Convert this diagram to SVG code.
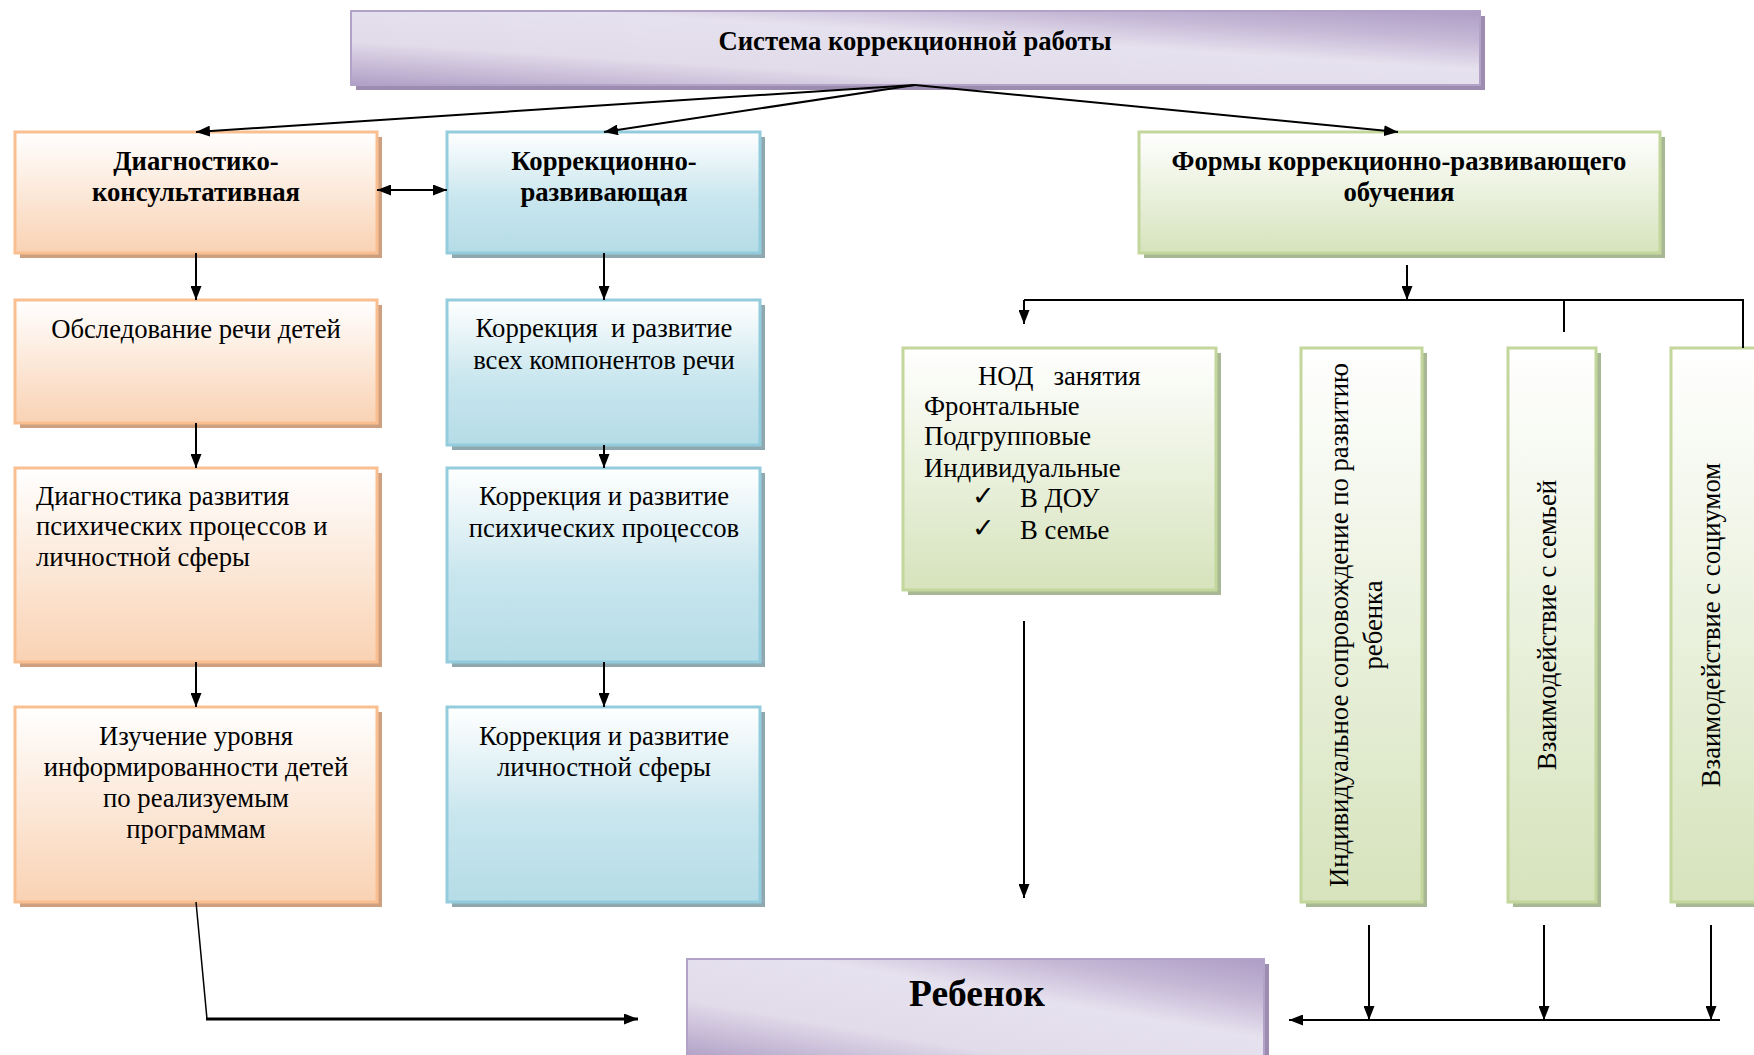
<svg xmlns="http://www.w3.org/2000/svg" width="1754" height="1055" viewBox="0 0 1754 1055">
<defs>
<linearGradient id="gOr" x1="0" y1="0" x2="0" y2="1"><stop offset="0" stop-color="#FFFFFF"/><stop offset="1" stop-color="#F9D2B3"/></linearGradient>
<linearGradient id="gBl" x1="0" y1="0" x2="0" y2="1"><stop offset="0" stop-color="#FFFFFF"/><stop offset="0.55" stop-color="#C9E6EE"/><stop offset="1" stop-color="#B5DCE7"/></linearGradient>
<linearGradient id="gGr" x1="0" y1="0" x2="0" y2="1"><stop offset="0" stop-color="#FFFFFF"/><stop offset="1" stop-color="#D6E3BC"/></linearGradient>
<linearGradient id="gPu" x1="0" y1="1" x2="1" y2="0"><stop offset="0" stop-color="#B09FC6"/><stop offset="0.3" stop-color="#E2DCEA"/><stop offset="0.6" stop-color="#E6E1EE"/><stop offset="0.8" stop-color="#C5B8D6"/><stop offset="1" stop-color="#AE9DC5"/></linearGradient>
<marker id="ah" viewBox="0 0 14 11" refX="14" refY="5.5" markerWidth="14" markerHeight="11" markerUnits="userSpaceOnUse" orient="auto-start-reverse"><path d="M0,0 L14,5.5 L0,11 z" fill="#000"/></marker>
</defs>
<style>
.t{font-family:"Liberation Serif","Times New Roman",serif;font-size:26.7px;fill:#000;white-space:pre}
.b{font-weight:bold}
.c{text-anchor:middle}
.or{fill:url(#gOr);stroke:#F9BF90;stroke-width:3}
.bl{fill:url(#gBl);stroke:#93CDDD;stroke-width:3}
.gr{fill:url(#gGr);stroke:#C3D69B;stroke-width:3}
.pu{fill:url(#gPu);stroke:#B3A2C7;stroke-width:2}
.sor{fill:#CFA07F}
.sbl{fill:#8FA8B0}
.sgr{fill:#A9B894}
.spu{fill:#9C8DB0}
.ln{stroke:#000;stroke-width:2;fill:none}
.ar{stroke:#000;stroke-width:2;fill:none;marker-end:url(#ah)}
</style>

<g id="top">
<rect class="spu" x="356" y="16" width="1129" height="74"/>
<rect class="pu" x="351" y="11" width="1129" height="74"/>
<text class="t b c" x="915" y="50">Система коррекционной работы</text>
</g>

<g id="diag">
<rect class="sor" x="20" y="137" width="362" height="121"/>
<rect class="or" x="15" y="132" width="362" height="121"/>
<text class="t b c" x="196" y="170">Диагностико-</text>
<text class="t b c" x="196" y="201">консультативная</text>
</g>
<g id="korr">
<rect class="sbl" x="452" y="137" width="313" height="121"/>
<rect class="bl" x="447" y="132" width="313" height="121"/>
<text class="t b c" x="604" y="170">Коррекционно-</text>
<text class="t b c" x="604" y="201">развивающая</text>
</g>
<g id="formy">
<rect class="sgr" x="1144" y="137" width="521" height="121"/>
<rect class="gr" x="1139" y="132" width="521" height="121"/>
<text class="t b c" x="1399" y="170">Формы коррекционно-развивающего</text>
<text class="t b c" x="1399" y="201">обучения</text>
</g>

<g id="obsl">
<rect class="sor" x="20" y="305" width="362" height="123"/>
<rect class="or" x="15" y="300" width="362" height="123"/>
<text class="t c" x="196" y="338">Обследование речи детей</text>
</g>
<g id="diagn">
<rect class="sor" x="20" y="473" width="362" height="194"/>
<rect class="or" x="15" y="468" width="362" height="194"/>
<text class="t" x="36" y="505">Диагностика развития</text>
<text class="t" x="36" y="535">психических процессов и</text>
<text class="t" x="36" y="566">личностной сферы</text>
</g>
<g id="izuch">
<rect class="sor" x="20" y="712" width="362" height="195"/>
<rect class="or" x="15" y="707" width="362" height="195"/>
<text class="t c" x="196" y="745">Изучение уровня</text>
<text class="t c" x="196" y="776">информированности детей</text>
<text class="t c" x="196" y="807">по реализуемым</text>
<text class="t c" x="196" y="838">программам</text>
</g>

<g id="korr1">
<rect class="sbl" x="452" y="305" width="313" height="145"/>
<rect class="bl" x="447" y="300" width="313" height="145"/>
<text class="t c" x="604" y="337">Коррекция  и развитие</text>
<text class="t c" x="604" y="369">всех компонентов речи</text>
</g>
<g id="korr2">
<rect class="sbl" x="452" y="473" width="313" height="194"/>
<rect class="bl" x="447" y="468" width="313" height="194"/>
<text class="t c" x="604" y="505">Коррекция и развитие</text>
<text class="t c" x="604" y="537">психических процессов</text>
</g>
<g id="korr3">
<rect class="sbl" x="452" y="712" width="313" height="195"/>
<rect class="bl" x="447" y="707" width="313" height="195"/>
<text class="t c" x="604" y="745">Коррекция и развитие</text>
<text class="t c" x="604" y="776">личностной сферы</text>
</g>

<g id="nod">
<rect class="sgr" x="908" y="353" width="313" height="242"/>
<rect class="gr" x="903" y="348" width="313" height="242"/>
<text class="t" x="978" y="385">НОД   занятия</text>
<text class="t" x="924" y="415">Фронтальные</text>
<text class="t" x="924" y="445">Подгрупповые</text>
<text class="t" x="924" y="477">Индивидуальные</text>
<text class="t" x="972" y="505">✓</text>
<text class="t" x="1020" y="507">В ДОУ</text>
<text class="t" x="972" y="537">✓</text>
<text class="t" x="1020" y="539">В семье</text>
</g>

<g id="individ">
<rect class="sgr" x="1306" y="353" width="121" height="554"/>
<rect class="gr" x="1301" y="348" width="121" height="554"/>
<text class="t c" transform="translate(1348,625) rotate(-90)">Индивидуальное сопровождение по развитию</text>
<text class="t c" transform="translate(1382,625) rotate(-90)">ребенка</text>
</g>
<g id="semya">
<rect class="sgr" x="1513" y="353" width="88" height="554"/>
<rect class="gr" x="1508" y="348" width="88" height="554"/>
<text class="t c" transform="translate(1556,625) rotate(-90)">Взаимодействие с семьей</text>
</g>
<g id="socium">
<rect class="sgr" x="1676" y="353" width="100" height="554"/>
<rect class="gr" x="1671" y="348" width="100" height="554"/>
<text class="t c" transform="translate(1720,625) rotate(-90)">Взаимодействие с социумом</text>
</g>

<g id="rebenok">
<rect class="spu" x="692" y="964" width="577" height="100"/>
<rect class="pu" x="687" y="959" width="577" height="100"/>
<text class="t b c" x="977" y="1006" style="font-size:37.5px">Ребенок</text>
</g>

<g id="connectors">
<line class="ar" x1="915" y1="85" x2="196" y2="132"/>
<line class="ar" x1="915" y1="85" x2="604" y2="132"/>
<line class="ar" x1="915" y1="85" x2="1398" y2="132"/>
<line class="ar" x1="377" y1="190" x2="447" y2="190" style="marker-start:url(#ah)"/>
<line class="ar" x1="196" y1="253" x2="196" y2="300"/>
<line class="ar" x1="196" y1="423" x2="196" y2="468"/>
<line class="ar" x1="196" y1="662" x2="196" y2="707"/>
<line class="ar" x1="604" y1="253" x2="604" y2="300"/>
<line class="ar" x1="604" y1="445" x2="604" y2="468"/>
<line class="ar" x1="604" y1="662" x2="604" y2="707"/>
<line class="ar" x1="1407" y1="265" x2="1407" y2="300"/>
<line class="ln" x1="1024" y1="300" x2="1744" y2="300"/>
<line class="ar" x1="1024" y1="300" x2="1024" y2="324"/>
<line class="ln" x1="1564" y1="300" x2="1564" y2="332"/>
<line class="ln" x1="1743" y1="300" x2="1743" y2="348"/>
<line class="ar" x1="1024" y1="621" x2="1024" y2="898"/>
<polyline class="ln" points="196,902 207,1019" style="stroke-width:1.5"/>
<line class="ar" x1="206" y1="1019" x2="638" y2="1019" style="stroke-width:3"/>
<line class="ar" x1="1369" y1="925" x2="1369" y2="1020"/>
<line class="ar" x1="1544" y1="925" x2="1544" y2="1020"/>
<line class="ar" x1="1711" y1="925" x2="1711" y2="1020"/>
<line class="ar" x1="1720" y1="1020" x2="1289" y2="1020"/>
</g>
</svg>
